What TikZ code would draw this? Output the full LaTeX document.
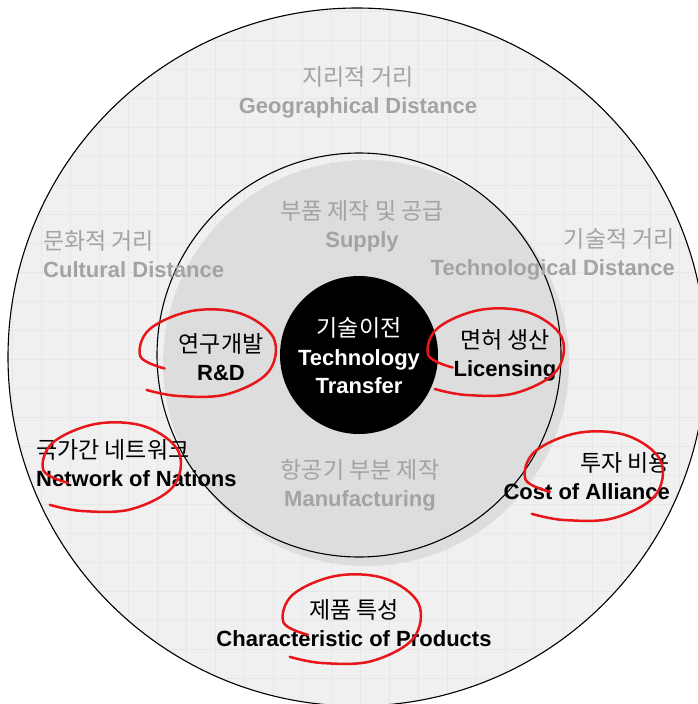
\documentclass[tikz,border=0pt]{standalone}
\usepackage{fontspec}
\setmainfont{Liberation Sans}
\newfontfamily\kr{Noto Sans CJK KR}
\definecolor{outerfill}{HTML}{F0F0F0}
\definecolor{gridc}{HTML}{E7E7E7}
\definecolor{innerfill}{HTML}{DADADA}
\definecolor{graytext}{HTML}{A3A3A3}
\definecolor{loopred}{HTML}{E8151B}
\newcommand\ko[1]{{\mdseries\kr\fontsize{23}{28}\selectfont #1}}
\tikzset{
  lbl/.style={inner sep=0pt, font=\fontsize{22}{28}\selectfont\bfseries},
  grl/.style={lbl, text=graytext},
  blk/.style={lbl, text=black},
  loopline/.style={draw=loopred, line width=2.5pt, line cap=round},
}
\newcommand\redloop[4]{%
  \begin{scope}[shift={(#1,#2)}, xscale=#3, yscale=#4]
    \draw[loopline] plot[smooth, tension=0.6] coordinates {(-0.6,0.36) (-0.95,0.08) (-0.82,-0.55) (-0.2,-0.98) (0.5,-0.92) (0.98,-0.35) (0.9,0.45) (0.3,0.96) (-0.4,1.0) (-0.86,0.86)};
  \end{scope}}
\begin{document}
\begin{tikzpicture}[x=1pt, y=-1pt]
\useasboundingbox (0,0) rectangle (698,704);
\fill[white] (0,0) rectangle (698,704);
% outer disk
\fill[outerfill] (357,357) circle (349);
\begin{scope}
  \clip (357,357) circle (349);
  \foreach \i in {0,...,24} {
    \draw[gridc, line width=0.8pt] (12+29*\i,0) -- (12+29*\i,704);
    \draw[gridc, line width=0.8pt] (0,11+29*\i) -- (698,11+29*\i);
  }
\end{scope}
\draw[line width=1.1pt] (357,357) circle (349);
% inner disk (offset shading)
\fill[innerfill, opacity=0.85] (366,363) circle (203);
\draw[line width=1.1pt] (359,355) circle (202);
% center disk
\fill[black] (359,355) circle (79);

% labels
\node[grl, align=center] (geo) at (358,92) {\ko{지리적 거리}\\Geographical Distance};
\node[grl, align=center] (sup) at (362,226) {\ko{부품 제작 및 공급}\\Supply};
\node[grl, align=left, anchor=west] (cul) at (43,254) {\ko{문화적 거리}\\Cultural Distance};
\node[grl, align=right, anchor=east] (tec) at (675,254) {\ko{기술적 거리}\\Technological Distance};
\node[blk, align=center] (rnd) at (221,357) {\ko{연구개발}\\R\&D};
\node[lbl, text=white, align=center, font=\fontsize{22}{28.5}\selectfont\bfseries] (tt) at (359,356) {\ko{기술이전}\\Technology\\Transfer};
\node[blk, align=center] (lic) at (505,355) {\ko{면허 생산}\\Licensing};
\node[blk, align=left, anchor=west] (net) at (36,463) {\ko{국가간 네트워크}\\Network of Nations};
\node[grl, align=center] (man) at (360,485) {\ko{항공기 부분 제작}\\Manufacturing};
\node[blk, align=right, anchor=east] (cost) at (670,476) {\ko{투자 비용}\\Cost of Alliance};
\node[blk, align=center] (prod) at (354,623) {\ko{제품 특성}\\Characteristic of Products};

% red hand-drawn loops
\redloop{206}{353}{69}{43}
\redloop{494}{352}{69}{43}
\redloop{110}{467}{70}{44}
\redloop{592}{476}{70}{44}
\redloop{350}{619}{70}{44}
\end{tikzpicture}
\end{document}
